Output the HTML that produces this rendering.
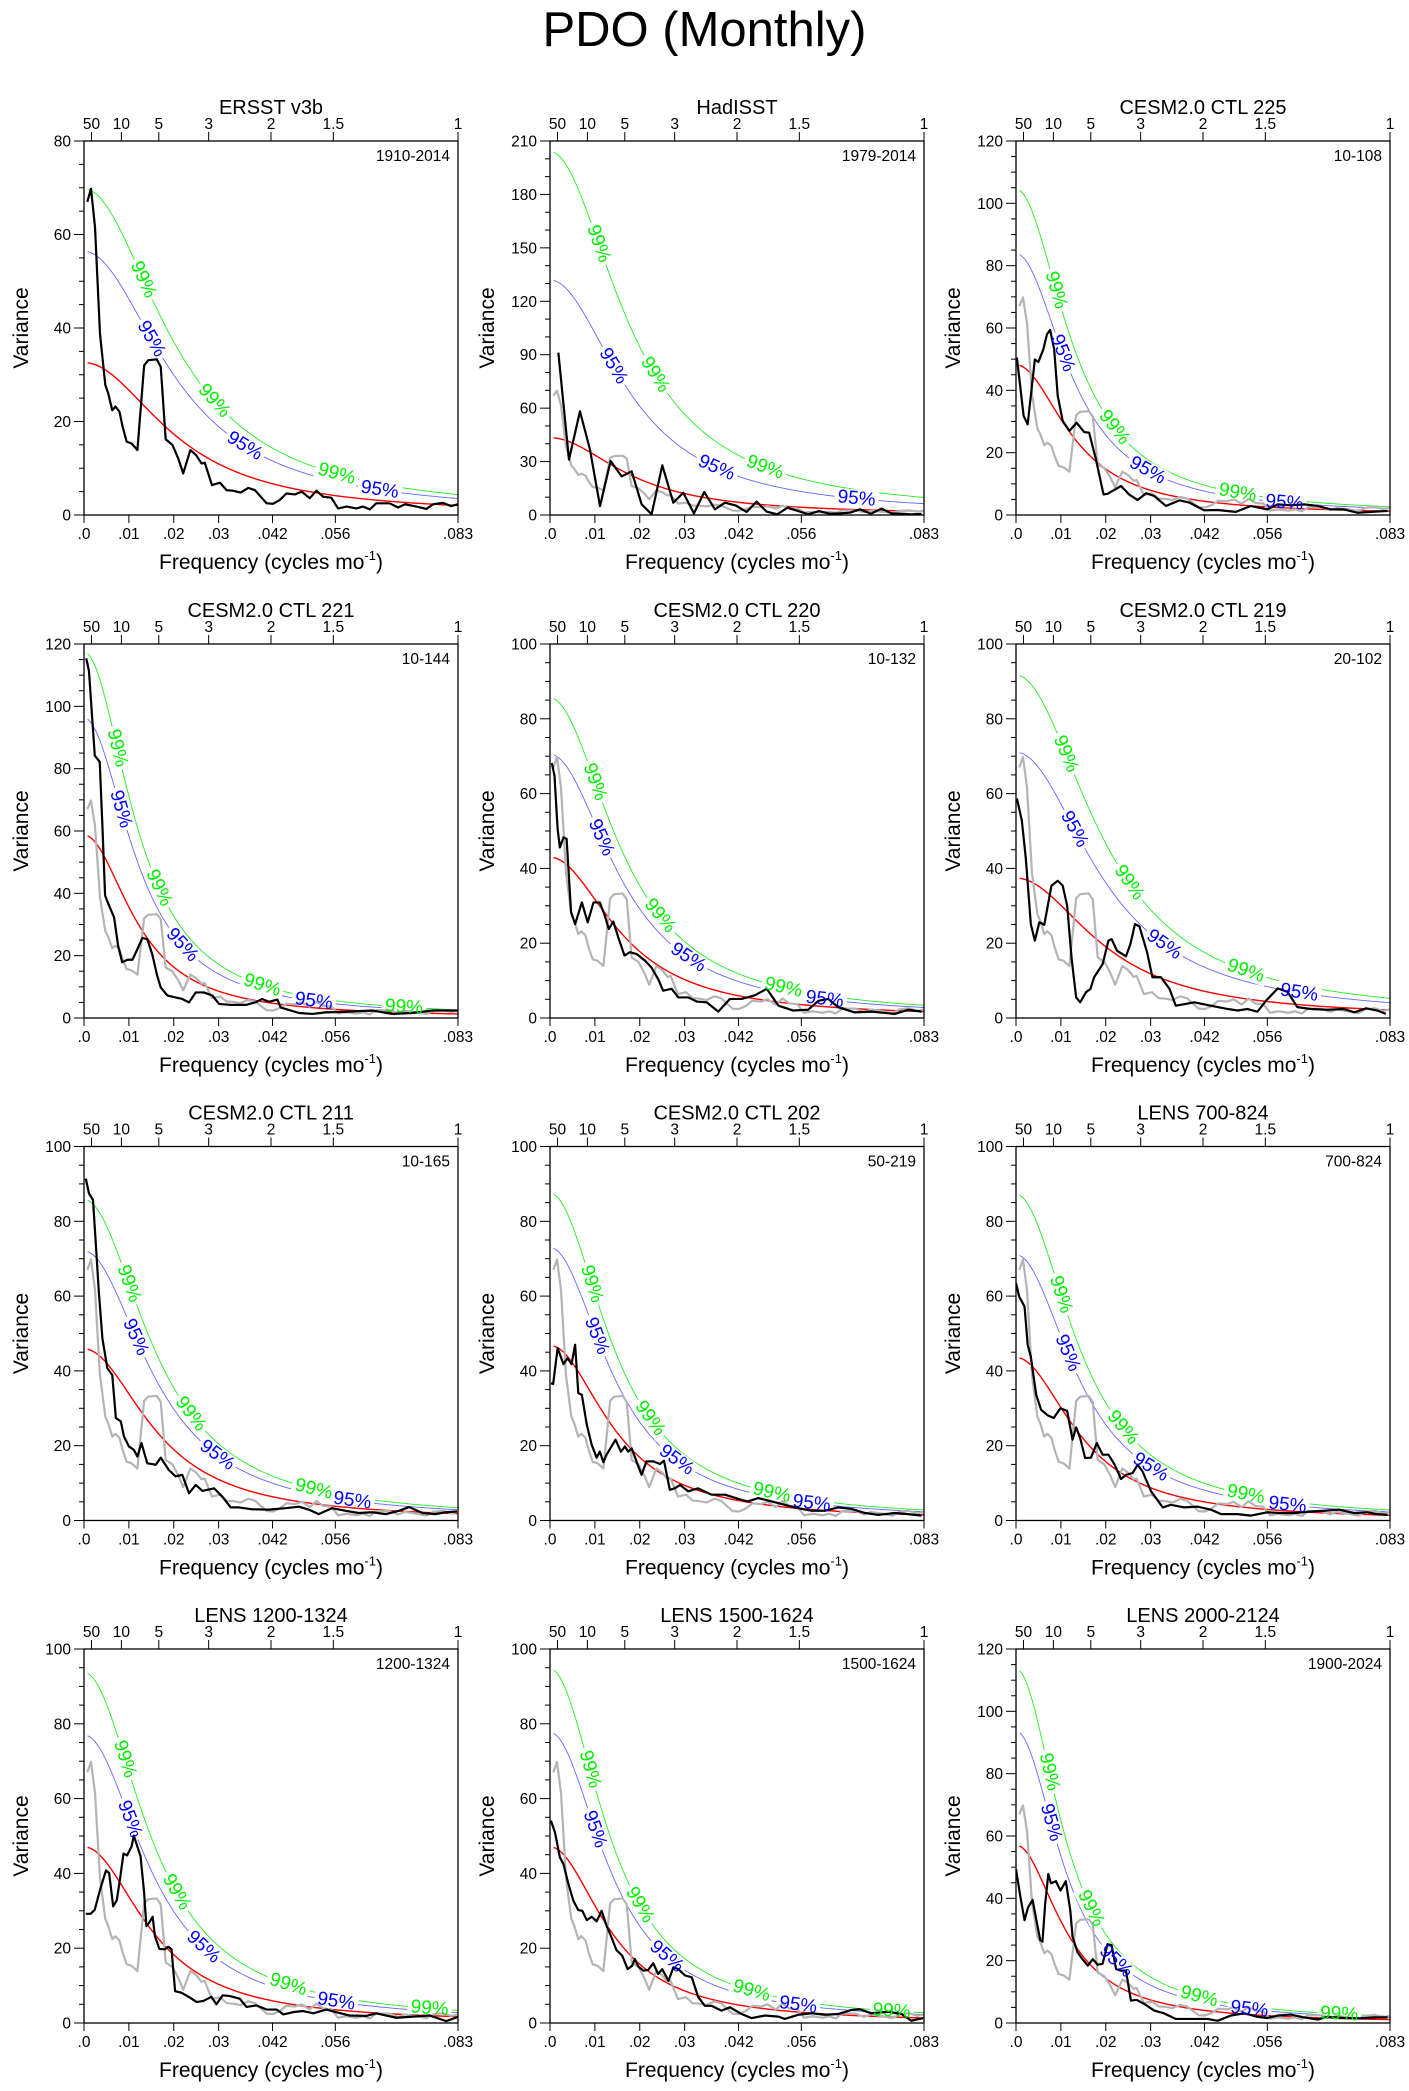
<!DOCTYPE html>
<html><head><meta charset="utf-8"><title>PDO (Monthly)</title>
<style>
html,body{margin:0;padding:0;background:#fff;}
svg{display:block;font-family:"Liberation Sans",Arial,sans-serif;}
</style></head>
<body>
<svg id="fig" width="1409" height="2091" viewBox="0 0 1409 2091" xmlns="http://www.w3.org/2000/svg">
<rect x="0" y="0" width="1409" height="2091" fill="#fff"/>
<text x="704.5" y="46" text-anchor="middle" font-size="49" fill="#000">PDO (Monthly)</text>
</svg>
<script>
// ---- panel meta ----
const titles = ["ERSST v3b","HadISST","CESM2.0 CTL 225","CESM2.0 CTL 221","CESM2.0 CTL 220","CESM2.0 CTL 219","CESM2.0 CTL 211","CESM2.0 CTL 202","LENS 700-824","LENS 1200-1324","LENS 1500-1624","LENS 2000-2124"];
const periodLabels = ["1910-2014","1979-2014","10-108","10-144","10-132","20-102","10-165","50-219","700-824","1200-1324","1500-1624","1900-2024"];
const yMax = [80,210,120,120,100,100,100,100,100,100,100,120];
const yStep = [20,30,20,20,20,20,20,20,20,20,20,20];
const yMinor = [5,10,5,5,5,5,5,5,5,5,5,5];
// red-noise fit per panel
const redStart = [32.6,43.4,48.2,58.7,43,37.4,45.9,46.8,43.6,47.1,47.1,57.1];
const redRho = [0.875,0.89,0.92,0.925,0.90,0.88,0.90,0.91,0.91,0.905,0.915,0.93];
const ci95 = [1.73,3.04,1.74,1.64,1.64,1.9,1.57,1.56,1.63,1.635,1.65,1.64];
const ci99 = [2.14,4.7,2.17,2.0,1.99,2.45,1.87,1.87,2.0,1.99,2.01,1.99];
// label positions (frequency) along the CI curves
const lab99 = [[.0132,.029,.0563],[.0108,.0234,.0479],[.0089,.0219,.0494],[.0074,.0167,.0397,.0713],[.01,.0245,.052],[.0111,.0252,.0512],[.01,.0238,.0512],[.0093,.0223,.0494],[.01,.0238,.0512],[.0091,.0206,.0455,.077],[.0089,.02,.0449,.0761],[.0074,.0167,.0408,.072]];
const lab95 = [[.015,.0358,.0659],[.0141,.0371,.0683],[.0104,.0293,.0598],[.0082,.0219,.0512],[.0114,.0308,.0612],[.013,.033,.0631],[.0115,.0297,.0598],[.0104,.0282,.0583],[.0115,.03,.0605],[.0102,.0266,.0562],[.01,.026,.0553],[.0078,.0223,.052]];
// axis ticks
const bottomTicks = [0,.01,.02,.03,.042,.056,1/12];
const bottomTickLabels = [".0",".01",".02",".03",".042",".056",".083"];
const topPeriods = [50,10,5,3,2,1.5,1];
const topPeriodLabels = ["50","10","5","3","2","1.5","1"];

// ---- spectra (frequency, variance) ----
const ersstF = [.00074,.00156,.00245,.00356,.00475,.0054,.0063,.007,.0079,.0086,.0095,.0106,.0119,.0134,.0143,.0162,.0171,.0182,.0197,.021,.0221,.0237,.025,.0262,.0269,.0285,.0303,.0318,.0332,.0349,.0366,.0381,.0407,.0421,.0436,.0451,.047,.0485,.0503,.0518,.0533,.0551,.0566,.0585,.0607,.0622,.0637,.0651,.0681,.07,.0715,.0741,.0763,.0778,.08,.0818,.0833];
const ersstV = [67,69.8,61.6,38.8,27.8,26,22.4,23.2,22.1,18.9,15.7,15.3,13.9,32,33.1,33.3,31.7,16.2,15,12.1,8.9,13.9,12.8,11,11.2,6.4,6.9,5.3,5.2,4.8,5.8,5.3,2.5,2.4,3.2,4.6,4.4,5,3.6,5.2,3.9,3.7,1.4,1.8,1.4,1.8,1.2,2.5,2.5,1.6,2.3,1.8,1.3,2.3,2.6,1.9,2.3];
const hadF = [.00186,.00423,.00668,.00891,.01114,.01351,.01596,.01819,.02042,.02264,.02502,.02747,.0297,.03207,.03437,.03675,.03898,.04135,.0438,.04603,.04826,.05063,.05293,.05531,.05754,.05991,.06236,.06459,.06682,.06904,.07149,.07387,.0761,.07832,.08055,.08278];
const hadV = [91.2,31.1,58.2,36.7,5.0,30.3,21.7,24.5,6.0,0.4,27.9,6.9,12.5,0.9,12.9,3.2,6.9,5.4,1.7,7.5,1.9,0.4,4.1,2.2,0.4,2.2,0.7,0.9,1.3,3.2,0.7,3.6,0.9,0.7,0.4,0.6];
const c225F = [.0002,.0017,.0026,.0042,.005,.0061,.0069,.0076,.0085,.0093,.0104,.0119,.0135,.0152,.0163,.0178,.0195,.0204,.0234,.0252,.0271,.029,.0308,.0334,.0364,.0386,.0419,.0449,.049,.0523,.056,.0583,.0612,.0642,.0672,.0702,.0731,.0761,.0791,.0828];
const c225V = [50.5,31.8,29.1,49.9,49.1,53.2,58,59.4,53.2,38.2,30.2,27,29.6,26.6,26.4,17.9,6.6,6.8,9.3,6.6,4.8,7,6.1,2.9,4.7,4,1.5,1.6,1,2.9,1.8,3.4,3.1,3.4,2.9,1.8,1.8,0.7,1,1.3];
const c221F = [.0005,.0011,.0024,.0035,.0041,.0047,.0056,.0067,.0076,.0085,.0097,.0108,.0119,.013,.0141,.0152,.0163,.0171,.0186,.0204,.0219,.0234,.0249,.0267,.0286,.0301,.033,.036,.0382,.0397,.0412,.0431,.0438,.0479,.0509,.0538,.0583,.0642,.0687,.0731,.0776,.0806,.0832];
const c221V = [115.4,111.4,84.2,82.2,61.7,39.3,36,32.3,23.2,17.9,18.7,18.7,22.1,25.7,25.3,20.5,13.6,9.8,7.2,6.6,6.1,5,8.2,8.2,7.2,4.5,4.2,4.2,5,6.1,5.2,5.9,3.4,1.6,1.3,1.8,2,2.4,1.3,1.6,2.4,2.4,2.4];
const c220F = [.0004,.001,.0017,.0022,.003,.0037,.0047,.0056,.0071,.0084,.0097,.0111,.0122,.0131,.0141,.0152,.0166,.0178,.0193,.0212,.0226,.0241,.0252,.0271,.0286,.0308,.0327,.0349,.0375,.0401,.0427,.0457,.0483,.0509,.0542,.0575,.0598,.062,.0642,.0679,.0716,.0768,.0798,.0828];
const c220V = [68.2,64.8,50.5,45.6,48.3,47.9,28.3,25.1,30.9,25.6,30.9,30.9,27.4,23.8,25.8,21.6,16.7,17.6,17.1,15.3,13.5,10.4,7.3,7.8,5.5,5.5,4.4,4.2,1.7,5.1,5.1,6.1,7.8,3.3,2,2.2,4.6,5.1,2.9,1.5,1.7,1.1,2.2,1.7];
const c219F = [.0002,.0013,.0022,.0033,.0042,.0052,.0063,.0079,.0093,.0104,.0114,.0124,.0134,.0143,.0156,.0166,.0174,.0193,.0206,.0213,.0225,.0245,.0255,.0265,.0275,.0292,.0304,.0323,.0342,.0356,.0375,.0397,.0434,.0472,.0494,.0516,.0538,.0557,.0583,.0605,.0627,.0657,.0694,.0731,.0754,.078,.0805,.0824];
const c219V = [58.7,52.8,42.5,25.1,20.7,25.6,24.9,35.4,36.7,35.4,30,15.8,5.5,4.2,6.9,7.8,10.9,14.4,20.7,21.1,18,16.5,19.8,25.1,24.5,17.6,10.9,10.9,7.8,3.3,3.7,4.2,3.3,2.4,2,2.4,1.7,4.6,7.9,7,2.9,2.4,2.2,2.4,1.5,2.6,2,1.1];
const c211F = [.0004,.0011,.002,.0026,.0033,.0041,.0052,.0063,.0071,.0082,.0089,.01,.0111,.0119,.0128,.0141,.016,.0171,.0189,.0204,.0219,.0234,.0249,.0264,.029,.0308,.0327,.0345,.0375,.0412,.0449,.0479,.0501,.0523,.0553,.0583,.0612,.0642,.0672,.0702,.0724,.0754,.0783,.0805,.0831];
const c211V = [91.4,87.5,85.7,74.6,61.2,48.7,40.7,38.9,27.4,26.5,22.5,19.8,18.9,17.1,20.7,15.3,14.9,16.8,13.5,11.8,12.2,7.3,9.5,7.9,8.6,6.4,3.5,3.5,3,2.9,3.3,3.7,2.9,1.7,3.3,2.6,2,2.2,1.7,2.6,3.6,2,1.7,2.2,2.4];
const c202F = [.0002,.0007,.0017,.003,.0039,.0048,.0056,.0063,.0071,.0082,.0093,.0104,.0111,.0119,.0126,.0137,.0146,.0158,.0167,.0174,.0182,.0197,.0204,.0215,.023,.0245,.0254,.0267,.0278,.029,.0308,.033,.036,.039,.0427,.0441,.0464,.0494,.0523,.0553,.0583,.0612,.0642,.0672,.0702,.0731,.0768,.0798,.0828];
const c202V = [36.7,36.5,46.1,41.8,43.4,41.8,47,34.1,33.6,25.6,20.2,16.8,18.4,15.6,17.6,19.8,21.6,18.4,19.8,18.4,19.3,14.4,12.2,15.8,15.8,15.1,16,8.2,8.6,9.5,7.8,8.6,6.9,6.9,5.5,5.1,6,5.1,4.2,3.3,2.6,2.6,3.5,3.1,2,1.5,2,1.7,1.3];
const l700F = [0,.0007,.0019,.0026,.0033,.0045,.0056,.0071,.0084,.0099,.0114,.0126,.0134,.0143,.0154,.0167,.018,.0193,.0206,.0219,.0234,.0245,.026,.0271,.0282,.0301,.0327,.0345,.0375,.0405,.0434,.0457,.0494,.0523,.056,.059,.062,.0657,.0687,.072,.0754,.0783,.0805,.0828];
const l700V = [63.5,59.9,57.2,47,43.8,33.6,29.6,28.1,27.4,30,29.3,21.6,24.9,22,16.7,16.8,20.7,17.6,17.6,15.1,11.1,12.2,12.7,14.9,13.1,7.8,3.5,4.2,3.5,3.7,2.9,1.7,1.7,1.3,2.2,2,2,2.4,2.6,2.9,2,2.2,1.7,1.5];
const l1200F = [.0004,.0015,.0024,.0036,.0049,.0056,.0065,.0073,.008,.0088,.0096,.0106,.0111,.0121,.0126,.0134,.0139,.0145,.0153,.0158,.0168,.018,.0188,.0195,.0203,.0217,.0236,.0251,.0266,.0284,.0295,.0309,.0325,.0347,.0362,.0384,.0407,.0429,.0444,.0466,.0488,.0511,.054,.0562,.0592,.0629,.0651,.0696,.0733,.077,.0807,.0833];
const l1200V = [29.2,29.2,30.3,35.7,40.8,40.1,31.2,32.8,38.3,45.3,44.8,47.2,50.1,46.4,44.6,34.8,25.9,26.8,28.4,23.2,19.8,19.7,20.4,19.7,8.5,8.1,6.8,5.6,5.9,7,5,7.4,7.2,6.5,4.3,4.7,3.6,3.6,2.3,2.9,3.2,2.6,3.6,2.9,2,1.9,2.6,1.4,1.7,2,0.5,1.6];
const l1500F = [.0002,.0011,.0022,.003,.0041,.0052,.0063,.0072,.0082,.0093,.0104,.0115,.0126,.0137,.0148,.0161,.0173,.0183,.0189,.0197,.0208,.0219,.023,.0241,.025,.0264,.0275,.0286,.0301,.0316,.033,.0345,.036,.0382,.0401,.0427,.0449,.0479,.0509,.0523,.0553,.0583,.0612,.0642,.0672,.069,.0716,.0754,.0783,.0805,.0831];
const l1500V = [54.1,51,44.3,42.5,37.2,32.7,30.2,30,27.5,28.4,27.2,30,26,22.9,19.5,18,14.4,15.3,17.1,15.1,14,14.2,16,13.1,14.4,11.3,14.9,14.4,12.7,12.2,7,4.6,4.6,3.3,4.2,2.4,1.3,2,1.7,1.1,2.2,2.6,2.2,2.4,3.5,3.7,2.6,3,2.4,0.6,1.3];
const l2000F = [0,.001,.0019,.0027,.0037,.0047,.0054,.0059,.0065,.0072,.0078,.0089,.0099,.0111,.0121,.0126,.0137,.0148,.016,.0171,.0182,.0193,.0204,.0213,.0223,.0234,.0245,.0256,.0269,.0286,.0308,.033,.0356,.039,.0427,.0449,.0479,.0509,.0538,.056,.0583,.0612,.0642,.0672,.0694,.0731,.0768,.0798,.0828];
const l2000V = [49.4,40.3,33,37.1,39.5,31.8,26.6,26.1,38.2,47.8,44.8,45.5,42.5,45.5,36.1,27.7,22.7,20.5,18.4,20.5,18.7,19,25.3,25,17.3,16.8,16.8,7.2,7.4,6.1,4,3.1,1.3,1.3,1.3,0.7,2.4,3.1,2,1.6,2.4,2.7,1.8,1.1,2,1.6,1.5,1.8,1.8];

const seriesF = [ersstF,hadF,c225F,c221F,c220F,c219F,c211F,c202F,l700F,l1200F,l1500F,l2000F];
const seriesV = [ersstV,hadV,c225V,c221V,c220V,c219V,c211V,c202V,l700V,l1200V,l1500V,l2000V];

// ---- layout ----
const NS = "http://www.w3.org/2000/svg";
const svg = document.getElementById("fig");
const colL = [84,550,1016];
const rowT = [141,644,1146.5,1649];
const W = 374, H = 374, FMAX = 1/12;

function mk(tag, attrs, parent){
  const e = document.createElementNS(NS, tag);
  for (const k in attrs) e.setAttribute(k, attrs[k]);
  (parent||svg).appendChild(e);
  return e;
}
function redCurve(i,f){
  const r = redRho[i];
  return redStart[i]*(1-r)*(1-r)/(1-2*r*Math.cos(2*Math.PI*f)+r*r);
}

for (let i=0;i<12;i++){
  const L = colL[i%3], T = rowT[Math.floor(i/3)];
  const xs = f => L + f/FMAX*W;
  const ys = v => T + H - v/yMax[i]*H;
  const g = mk("g",{});
  
  

  const cp = mk("clipPath",{id:"clip"+i}, g);
  mk("rect",{x:L,y:T,width:W,height:H}, cp);

  // label positions -> mask for CI line gaps
  const labSets = [[lab99[i],ci99[i],"#00ee00","99%",'ci99-label'],[lab95[i],ci95[i],"#0000ff","95%",'ci95-label']];
  const labPos = [];
  labSets.forEach(s=>{
    s[0].forEach(f=>{
      const x = xs(f), y = ys(redCurve(i,f)*s[1]);
      const x2 = xs(f+0.0005), y2 = ys(redCurve(i,f+0.0005)*s[1]);
      const ang = Math.atan2(y2-y, x2-x)*180/Math.PI;
      labPos.push([x,y,ang,s]);
    });
  });
  const mask = mk("mask",{id:"mask"+i,maskUnits:"userSpaceOnUse",x:L-5,y:T-5,width:W+10,height:H+10}, g);
  mk("rect",{x:L-5,y:T-5,width:W+10,height:H+10,fill:"#fff"}, mask);
  labPos.forEach(p=>{
    mk("rect",{x:-22,y:-9,width:44,height:18,fill:"#000",transform:`translate(${p[0].toFixed(2)},${p[1].toFixed(2)}) rotate(${p[2].toFixed(1)})`}, mask);
  });

  const tt = mk("text",{x:L+W/2,y:T-27,"text-anchor":"middle","font-size":"20",fill:"#000"}, g);
  tt.textContent = titles[i];
  
  

  const pl = mk("text",{x:L+W-8,y:T+20,"text-anchor":"end","font-size":"15.5",fill:"#000"}, g);
  pl.textContent = periodLabels[i];
  
  

  for (let v=0; v<=yMax[i]+1e-9; v+=yMinor[i]){
    const major = Math.abs(v/yStep[i]-Math.round(v/yStep[i]))<1e-6;
    const tk = mk("line",{x1:L-(major?10:5),x2:L,y1:ys(v),y2:ys(v),stroke:"#000","stroke-width":"1"}, g);
    
    
    if (major){
      const lb = mk("text",{x:L-13,y:ys(v)+5.5,"text-anchor":"end","font-size":"15.5",fill:"#000"}, g);
      lb.textContent = String(Math.round(v));
      
      
    }
  }
  bottomTicks.forEach((f,k)=>{
    const tk = mk("line",{x1:xs(f),x2:xs(f),y1:T+H,y2:T+H+8,stroke:"#000","stroke-width":"1"}, g);
    
    
    const lb = mk("text",{x:xs(f),y:T+H+24,"text-anchor":"middle","font-size":"15.5",fill:"#000"}, g);
    lb.textContent = bottomTickLabels[k];
    
    
  });
  topPeriods.forEach((p,k)=>{
    const f = 1/(12*p);
    const tk = mk("line",{x1:xs(f),x2:xs(f),y1:T-9,y2:T,stroke:"#000","stroke-width":"1"}, g);
    
    
    const lb = mk("text",{x:xs(f),y:T-12,"text-anchor":"middle","font-size":"15.5",fill:"#000"}, g);
    lb.textContent = topPeriodLabels[k];
    
    
  });

  const yt = mk("text",{x:0,y:0,"text-anchor":"middle","font-size":"21",fill:"#000",transform:`translate(${L-56},${T+H/2}) rotate(-90)`}, g);
  yt.textContent = "Variance";
  
  
  const xt = mk("text",{x:L+W/2,y:T+H+54,"text-anchor":"middle","font-size":"21",fill:"#000"}, g);
  xt.innerHTML = 'Frequency (cycles mo<tspan font-size="13" dy="-9">-1</tspan><tspan dy="9">)</tspan>';
  
  

  const dg = mk("g",{"clip-path":`url(#clip${i})`}, g);
  const cg = mk("g",{mask:`url(#mask${i})`}, dg);

  const curves = [[ci99[i],"#22ee22",0.9,'ci99-curve',cg],[ci95[i],"#6666ff",0.9,'ci95-curve',cg],[1,"#ff0000",1.4,'red-noise-curve',dg]];
  curves.forEach(c=>{
    let d="";
    for (let k=0;k<=150;k++){
      const f = 0.0008 + (FMAX-0.0008)*k/150;
      d += (k?"L":"M")+xs(f).toFixed(2)+","+ys(redCurve(i,f)*c[0]).toFixed(2);
    }
    const p = mk("path",{d:d,fill:"none",stroke:c[1],"stroke-width":c[2]}, c[4]);
    
    
  });

  if (i>0){
    let d="";
    ersstF.forEach((f,k)=>{ d += (k?"L":"M")+xs(f).toFixed(2)+","+ys(ersstV[k]).toFixed(2); });
    const p = mk("path",{d:d,fill:"none",stroke:"#b4b4b4","stroke-width":"2.2","stroke-linejoin":"round"}, dg);
    
    
  }
  {
    let d="";
    seriesF[i].forEach((f,k)=>{ d += (k?"L":"M")+xs(f).toFixed(2)+","+ys(seriesV[i][k]).toFixed(2); });
    const p = mk("path",{d:d,fill:"none",stroke:"#000","stroke-width":"2.2","stroke-linejoin":"round"}, dg);
    
    
  }

  labPos.forEach(p=>{
    const s = p[3];
    const t = mk("text",{x:0,y:0,"text-anchor":"middle","dominant-baseline":"central","font-size":"19",fill:s[2],transform:`translate(${p[0].toFixed(2)},${p[1].toFixed(2)}) rotate(${p[2].toFixed(1)})`}, g);
    t.textContent = s[3];
    
    
  });

  const fr = mk("rect",{x:L,y:T,width:W,height:H,fill:"none",stroke:"#000","stroke-width":"1.3"}, g);
  
  
}
</script>
</body></html>
